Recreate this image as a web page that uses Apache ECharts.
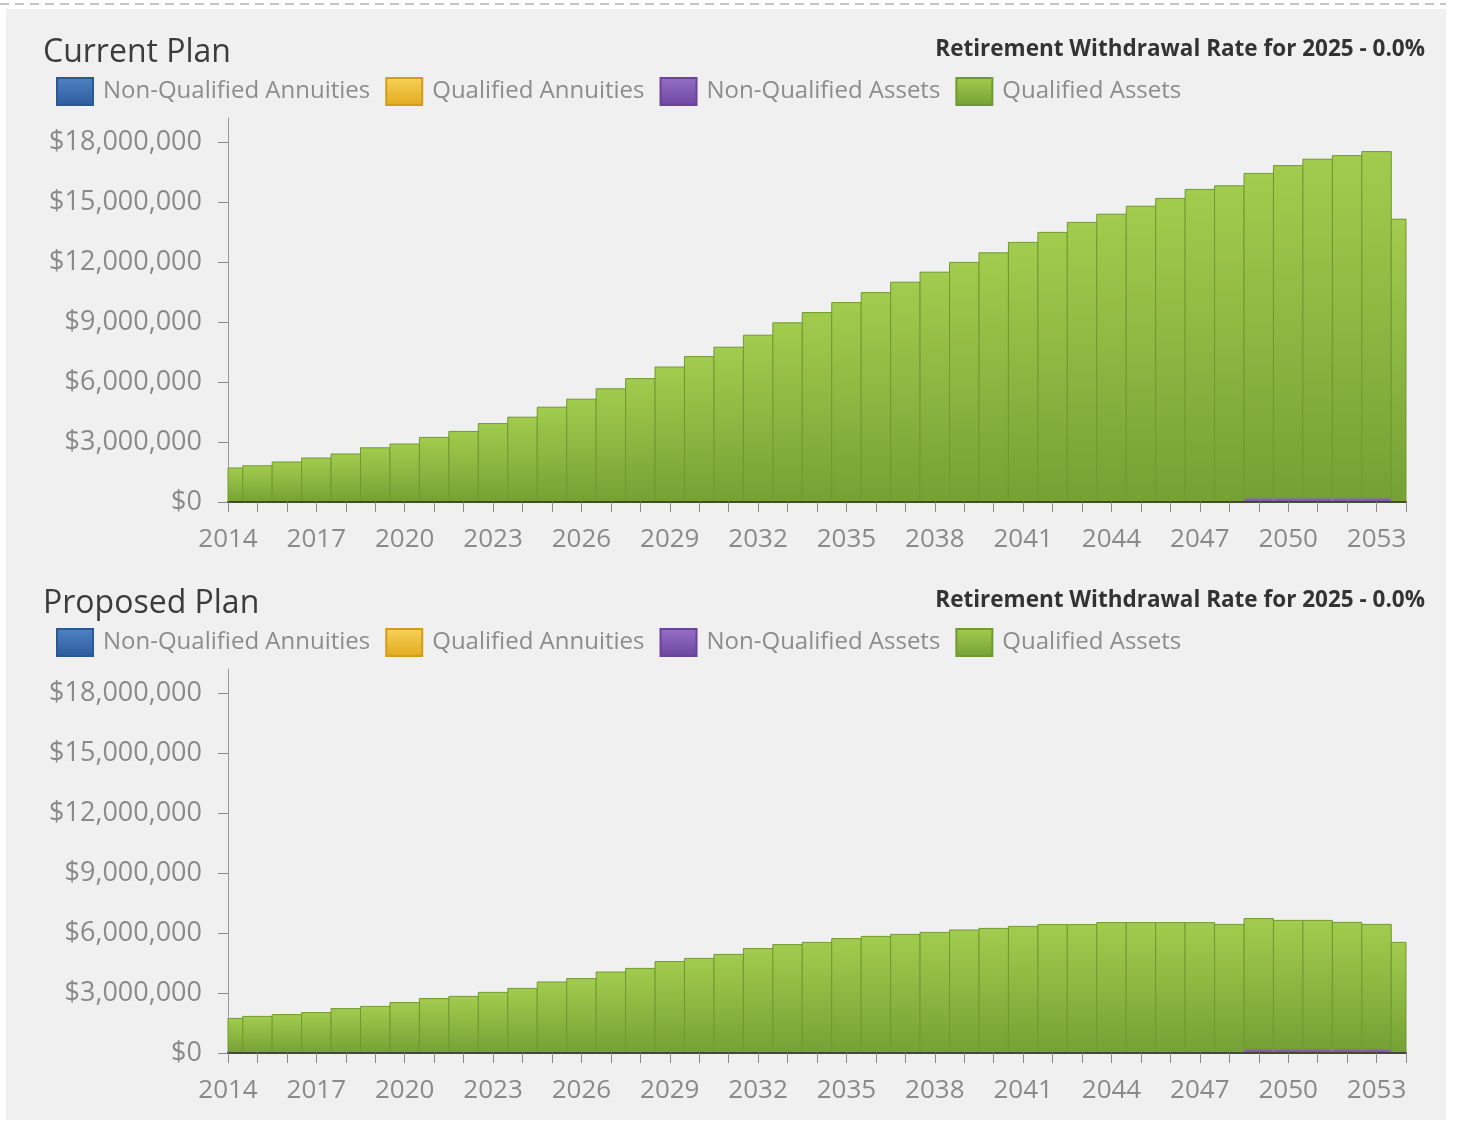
<!DOCTYPE html>
<html>
<head>
<meta charset="utf-8">
<title>Current Plan / Proposed Plan</title>
<script src="https://cdn.jsdelivr.net/npm/echarts@6/dist/echarts.min.js"></script>
<style>
  html, body { margin: 0; padding: 0; background: #ffffff; }
  #dash { position: absolute; left: 0; top: 3px; width: 1446px; height: 2px;
          background: repeating-linear-gradient(to right, #c4c4c4 0 9px, transparent 9px 15px); }
  #panel { position: absolute; left: 6px; top: 9px; width: 1440px; height: 1111px; background: #f0f0f0; }
  #chart { position: absolute; left: 0; top: 0; width: 1457px; height: 1122px; }
</style>
</head>
<body>
<div id="dash"></div>
<div id="panel"></div>
<div id="chart"></div>
<script>
// Years on the horizontal axis
const years = ['2014','2015','2016','2017','2018','2019','2020','2021','2022','2023',
               '2024','2025','2026','2027','2028','2029','2030','2031','2032','2033',
               '2034','2035','2036','2037','2038','2039','2040','2041','2042','2043',
               '2044','2045','2046','2047','2048','2049','2050','2051','2052','2053','2054'];

// Value-axis tick values
const yTicks = [0, 3000000, 6000000, 9000000, 12000000, 15000000, 18000000];

const seriesNames = ['Non-Qualified Annuities', 'Qualified Annuities', 'Non-Qualified Assets', 'Qualified Assets'];

// Current plan balances ($)
const currentNQAnnuities = [0,0,0,0,0,0,0,0,0,0, 0,0,0,0,0,0,0,0,0,0, 0,0,0,0,0,0,0,0,0,0, 0,0,0,0,0,0,0,0,0,0, 0];
const currentQAnnuities  = [0,0,0,0,0,0,0,0,0,0, 0,0,0,0,0,0,0,0,0,0, 0,0,0,0,0,0,0,0,0,0, 0,0,0,0,0,0,0,0,0,0, 0];
const currentNQAssets    = [0,0,0,0,0,0,0,0,0,0, 0,0,0,0,0,0,0,0,0,0, 0,0,0,0,0,0,0,0,0,0, 0,0,0,0,0,
                            200000,200000,200000,200000,200000, 0];
const currentQAssets = [
  1700000, 1810000, 2000000, 2200000, 2400000, 2710000, 2900000, 3230000, 3530000, 3920000,
  4240000, 4740000, 5140000, 5660000, 6170000, 6750000, 7270000, 7740000, 8340000, 8960000,
  9470000, 9970000, 10470000, 10990000, 11490000, 11980000, 12460000, 12980000, 13480000, 13980000,
  14390000, 14790000, 15180000, 15630000, 15810000, 16230000, 16620000, 16940000, 17120000, 17320000,
  14140000];

// Proposed plan balances ($)
const proposedNQAnnuities = [0,0,0,0,0,0,0,0,0,0, 0,0,0,0,0,0,0,0,0,0, 0,0,0,0,0,0,0,0,0,0, 0,0,0,0,0,0,0,0,0,0, 0];
const proposedQAnnuities  = [0,0,0,0,0,0,0,0,0,0, 0,0,0,0,0,0,0,0,0,0, 0,0,0,0,0,0,0,0,0,0, 0,0,0,0,0,0,0,0,0,0, 0];
const proposedNQAssets    = [0,0,0,0,0,0,0,0,0,0, 0,0,0,0,0,0,0,0,0,0, 0,0,0,0,0,0,0,0,0,0, 0,0,0,0,0,
                             200000,200000,200000,200000,200000, 0];
const proposedQAssets = [
  1730000, 1830000, 1920000, 2020000, 2220000, 2330000, 2520000, 2720000, 2830000, 3030000,
  3230000, 3550000, 3720000, 4050000, 4230000, 4570000, 4730000, 4930000, 5220000, 5420000,
  5530000, 5720000, 5830000, 5930000, 6030000, 6150000, 6230000, 6330000, 6420000, 6420000,
  6520000, 6520000, 6520000, 6520000, 6430000, 6520000, 6430000, 6430000, 6330000, 6230000,
  5530000];

const FONT = 'Open Sans';

function vgrad(top, bottom) {
  return new echarts.graphic.LinearGradient(0, 0, 0, 1, [
    { offset: 0, color: top }, { offset: 1, color: bottom }
  ]);
}

const styles = [
  { top: '#4f82c4', bottom: '#2d5c9c', stroke: '#2b5793', lineWidth: 0 },
  { top: '#f6d25a', bottom: '#e3aa1f', stroke: '#d29d1c', lineWidth: 0 },
  { top: '#9670c6', bottom: '#6d47a0', stroke: '#6a4596', lineWidth: 0 },
  { top: '#a2cc4e', bottom: '#75a135', stroke: '#71992f', lineWidth: 1 }
];

function dollars(v) {
  return '$' + Math.round(v).toLocaleString('en-US');
}

// Stacked column drawn one year per band; columns at the two ends of the
// axis are trimmed to the plotting area, so they show as half columns.
function makeRenderItem(st) {
  return function (params, api) {
    const base = api.value(1);
    const top = api.value(2);
    if (top <= base) return null;
    const idx = api.value(0);
    const p0 = api.coord([idx, base]);
    const p1 = api.coord([idx, top]);
    const w = api.size([1, 0])[0];
    const cs = params.coordSys;
    const x0 = Math.max(p0[0] - w / 2, cs.x);
    const x1 = Math.min(p0[0] + w / 2, cs.x + cs.width);
    return {
      type: 'rect',
      shape: { x: x0, y: p1[1], width: x1 - x0, height: p0[1] - p1[1] },
      style: { fill: vgrad(st.top, st.bottom), stroke: st.lineWidth ? st.stroke : null, lineWidth: st.lineWidth }
    };
  };
}

const panels = [
  { title: 'Current Plan', offset: 0,
    data: [currentNQAnnuities, currentQAnnuities, currentNQAssets, currentQAssets] },
  { title: 'Proposed Plan', offset: 551,
    data: [proposedNQAnnuities, proposedQAnnuities, proposedNQAssets, proposedQAssets] }
];

const option = {
  animation: false,
  backgroundColor: 'transparent',
  textStyle: { fontFamily: FONT },
  title: [],
  legend: [],
  grid: [],
  xAxis: [],
  yAxis: [],
  series: []
};

panels.forEach((p, i) => {
  option.title.push({
    text: p.title, left: 43, top: 37 + p.offset, padding: 0,
    textStyle: { fontFamily: FONT, fontSize: 32, fontWeight: 'normal', color: '#3c3c3c' }
  });
  option.title.push({
    text: 'Retirement Withdrawal Rate for 2025 - 0.0%', right: 32, top: 38 + p.offset, padding: 0,
    textStyle: { fontFamily: FONT, fontSize: 22.5, fontWeight: 'bold', color: '#333333' }
  });
  option.legend.push({
    left: 56, top: 77 + p.offset, padding: 0,
    itemWidth: 36, itemHeight: 27, itemGap: 15, icon: 'rect',
    selectedMode: false,
    textStyle: { fontFamily: FONT, fontSize: 24, color: '#8c8c8c', padding: [0, 0, 0, 5] },
    data: seriesNames
  });
  option.grid.push({ left: 228, width: 1178, top: 118 + p.offset, height: 384 });
  option.xAxis.push({
    type: 'category', gridIndex: i, data: years, boundaryGap: false, z: 5,
    axisLine: { lineStyle: { color: '#454a33', width: 2 } },
    axisTick: { interval: 0, length: 10, lineStyle: { color: '#8a8a8a', width: 1 } },
    axisLabel: { interval: 2, margin: 25, fontFamily: FONT, fontSize: 26, color: '#8a8a8a' },
    splitLine: { show: false }
  });
  option.yAxis.push({
    type: 'value', gridIndex: i, min: 0, max: 19200000, interval: 3000000,
    splitLine: { show: false },
    axisLine: { show: true, lineStyle: { color: '#9a9a9a', width: 1 } },
    axisTick: { show: true, length: 10, customValues: yTicks, lineStyle: { color: '#8a8a8a' } },
    axisLabel: { customValues: yTicks, margin: 26, fontFamily: FONT, fontSize: 27, color: '#8a8a8a',
                 formatter: dollars }
  });

  // running stack base per year
  const base = years.map(() => 0);
  seriesNames.forEach((name, k) => {
    const vals = p.data[k];
    const items = vals.map((v, j) => {
      const item = [j, base[j], base[j] + v];
      base[j] += v;
      return item;
    });
    const st = styles[k];
    option.series.push({
      name: name, type: 'custom', xAxisIndex: i, yAxisIndex: i,
      renderItem: makeRenderItem(st),
      encode: { x: 0, y: [1, 2] },
      itemStyle: { color: vgrad(st.top, st.bottom), borderColor: st.stroke, borderWidth: 1 },
      emphasis: { disabled: true },
      silent: true,
      data: items
    });
  });
});

const chart = echarts.init(document.getElementById('chart'), null, { renderer: 'canvas' });
chart.setOption(option);
</script>
</body>
</html>
